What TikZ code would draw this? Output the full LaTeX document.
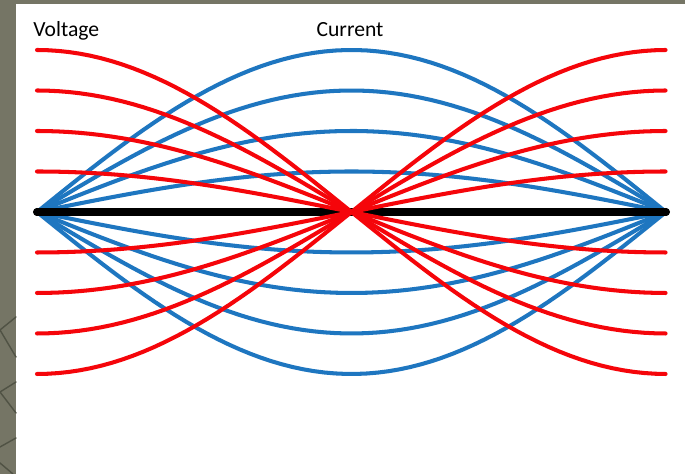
\documentclass[tikz,border=0pt]{standalone}
\usepackage{fontspec}
\setmainfont{Carlito}
\definecolor{voltred}{RGB}{245,5,10}
\definecolor{currblue}{RGB}{30,118,192}
\definecolor{slidegray}{RGB}{117,117,101}
\definecolor{slideline}{RGB}{80,82,68}
\tikzset{
  volt/.style={voltred, line width=2.3pt, line cap=round},
  curr/.style={currblue, line width=2.3pt, line cap=round},
  lbl/.style={font=\fontsize{12.3pt}{14pt}\selectfont, inner sep=0pt, anchor=base}
}
\begin{document}
\begin{tikzpicture}[line join=round, line cap=round]
  % khung nen xam va trang
  \fill[slidegray] (0,0) rectangle (13.7,9.48);
  \fill[white] (0.32,0) rectangle (13.7,9.40);
  \useasboundingbox (0,0) rectangle (13.7,9.48);
  \draw[slideline, line width=0.8pt] (0.32,3.14) -- (0,2.88) -- (0.32,2.34);
  \draw[slideline, line width=0.8pt] (0.32,1.84) -- (0,1.64) -- (0.32,1.22);
  \draw[slideline, line width=0.8pt] (0.32,0.72) -- (0,0.54);
  \draw[slideline, line width=0.8pt] (0,0.22) -- (0.26,0);

  % cac diem cua day
  \coordinate (L) at (0.74,5.24);   % dau trai
  \coordinate (R) at (13.32,5.24);  % dau phai
  \coordinate (M) at (7.03,5.24);   % giua

  % dong dien (mau xanh)
  \foreach \a in {1,...,4}
    \foreach \s in {1,-1}
      \draw[curr] plot[domain=0:1, samples=60]
        ({0.74+12.58*\x},{5.24+\s*0.81*\a*sin(180*\x)});

  % day (net den dam)
  \draw[line width=4pt] (L) -- (R);
  \fill (L) circle (0.08);
  \fill (R) circle (0.08);

  % dien ap (mau do)
  \foreach \a in {1,...,4}
    \foreach \s in {1,-1}
      \draw[volt] plot[domain=0:1, samples=60]
        ({0.74+12.58*\x},{5.24+\s*0.81*\a*cos(180*\x)});

  % nhan
  \node[lbl, anchor=base west] (voltage) at (0.66,8.74) {Voltage};
  \node[lbl] (current) at (7.0,8.74) {Current};
\end{tikzpicture}
\end{document}
